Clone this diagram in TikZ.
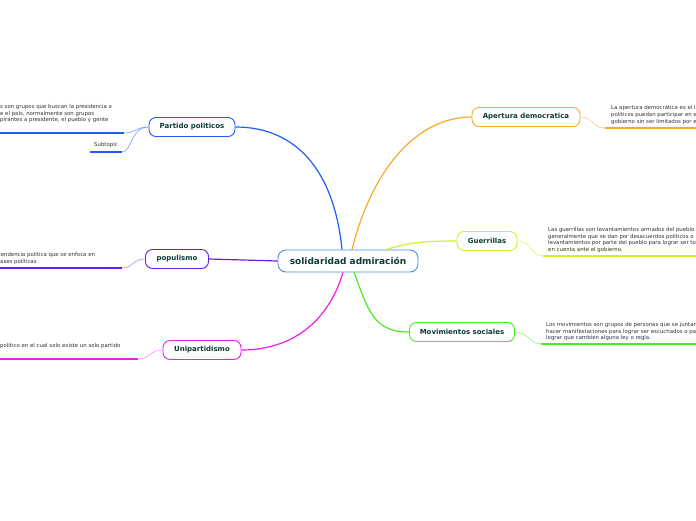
\documentclass[tikz,border=0pt]{standalone}
\usepackage{fontspec}
\setmainfont{DejaVu Sans}
\usetikzlibrary{calc}
\definecolor{Ink}{HTML}{0E3B36}
\definecolor{Hub}{HTML}{4A8FD6}
\definecolor{Royal}{HTML}{1F5BFF}
\definecolor{Amber}{HTML}{F7A928}
\definecolor{Lime}{HTML}{D2F02A}
\definecolor{Leaf}{HTML}{4CEB1F}
\definecolor{Violet}{HTML}{6B1CF0}
\definecolor{Pink}{HTML}{EE1EEE}
\definecolor{Note}{HTML}{333333}
\tikzset{
  hubnode/.style={rounded corners=8pt,draw=Hub,line width=0.9pt,fill=white,minimum width=140pt,
    minimum height=22pt,text=Ink,font=\fontsize{9}{10}\selectfont\bfseries},
  topicnode/.style={rounded corners=7pt,line width=0.9pt,fill=white,minimum height=19pt,
    text=Ink,font=\fontsize{7}{8}\selectfont\bfseries},
  branch/.style={line width=1.2pt},
  twig/.style={line width=0.6pt},
  underrule/.style={line width=1.5pt},
  notetext/.style={inner sep=0pt,anchor=north west,align=left,text=Note,
    font=\fontsize{5.4}{6.8}\selectfont},
}

\begin{document}
\begin{tikzpicture}[x=1pt,y=-1pt]
  \clip (0,0) rectangle (696,520);
  \fill[white] (0,0) rectangle (696,520);

  % main topics
  \node[hubnode] (hub) at (348,261) {solidaridad admiración};
  \node[topicnode,draw=Amber,minimum width=108pt] (apertura) at (526,117) {Apertura democratica};
  \node[topicnode,draw=Lime,minimum width=60pt] (guerrillas) at (487,241) {Guerrillas};
  \node[topicnode,draw=Leaf,minimum width=105pt] (movimientos) at (462,332) {Movimientos sociales};
  \node[topicnode,draw=Royal,minimum width=86pt] (partido) at (192,127) {Partido politicos};
  \node[topicnode,draw=Violet,minimum width=63pt] (populismo) at (177,259) {populismo};
  \node[topicnode,draw=Pink,minimum width=78pt] (unipartidismo) at (202,350) {Unipartidismo};

  % branches from the hub
  \draw[branch,Royal] ($(hub.north)+(-6,0)$) .. controls +(-8,-80) and +(60,0) .. (partido.east);
  \draw[branch,Amber] ($(hub.north)+(4,0)$) .. controls +(20,-80) and +(-55,0) .. (apertura.west);
  \draw[branch,Lime] ($(hub.north east)+(-32,0)$) .. controls +(25,-8) and +(-25,0) .. (guerrillas.west);
  \draw[branch,Leaf] ($(hub.south)+(6,0)$) .. controls +(15,40) and +(-35,0) .. (movimientos.west);
  \draw[branch,Pink] ($(hub.south)+(-5,0)$) .. controls +(-15,50) and +(50,0) .. (unipartidismo.east);
  \draw[branch,Violet] (hub.west) -- (populismo.east);

  % notes
  \coordinate (aperturaend) at (605,128);
  \coordinate (aperturaedge) at (697,128);
  \node[notetext] (aperturanote) at (611,105) {La apertura democrática es el lapso\\políticos puedan participar en el\\gobierno sin ser limitados por el};
  \draw[twig,Amber!60] (apertura.east) .. controls +(13,0) and +(-13,0) .. (aperturaend);
  \draw[underrule,Amber] (aperturaend) -- (aperturaedge);

  \coordinate (guerrillasend) at (543,256);
  \coordinate (guerrillasedge) at (697,256);
  \node[notetext] (guerrillasnote) at (548,227) {Las guerrillas son levantamientos armados del pueblo\\generalmente que se dan por desacuerdos políticos o\\levantamientos por parte del pueblo para lograr ser tomados\\en cuenta ante el gobierno.};
  \draw[twig,Lime!70] (guerrillas.east) .. controls +(14,0) and +(-12,0) .. (guerrillasend);
  \draw[underrule,Lime] (guerrillasend) -- (guerrillasedge);

  \coordinate (movimientosend) at (541,344);
  \coordinate (movimientosedge) at (697,344);
  \node[notetext] (movimientosnote) at (546,322) {Los movimientos son grupos de personas que se juntan\\hacer manifestaciones para lograr ser escuchados o para\\lograr que cambien alguna ley o regla.};
  \draw[twig,Leaf!60] (movimientos.east) .. controls +(14,0) and +(-12,0) .. (movimientosend);
  \draw[underrule,Leaf] (movimientosend) -- (movimientosedge);

  \coordinate (partidoend) at (124,133);
  \coordinate (partidoedge) at (-1,133);
  \node[notetext] (partidonote) at (0,104) {s son grupos que buscan la presidencia o\\e el país, normalmente son grupos\\pirantes a presidente, el pueblo y gente};
  \draw[twig,Royal!60] (partido.west) .. controls +(-13,0) and +(12,0) .. (partidoend);
  \draw[underrule,Royal] (partidoend) -- (partidoedge);

  \coordinate (subtopicend) at (122,152);
  \coordinate (subtopicstart) at (90,152);
  \node[inner sep=0pt,text=Note,font=\fontsize{5.4}{6}\selectfont] (subtopic) at (106,145.5) {Subtopic};
  \draw[twig,Royal!60] (partido.west) .. controls +(-18,0) and +(10,0) .. (subtopicend);
  \draw[underrule,Royal] (subtopicend) -- (subtopicstart);

  \coordinate (populismoend) at (122,268);
  \coordinate (populismoedge) at (-1,268);
  \node[notetext] (populismonote) at (-1.5,252) {tendencia política que se enfoca en\\ lases políticas};
  \draw[twig,Violet!50] (populismo.west) .. controls +(-13,0) and +(12,0) .. (populismoend);
  \draw[underrule,Violet] (populismoend) -- (populismoedge);

  \coordinate (unipartidismoend) at (138,359);
  \coordinate (unipartidismoedge) at (-1,359);
  \node[notetext] (unipartidismonote) at (0,343) {político en el cual solo existe un solo partido};
  \draw[twig,Pink!50] (unipartidismo.west) .. controls +(-13,0) and +(12,0) .. (unipartidismoend);
  \draw[underrule,Pink] (unipartidismoend) -- (unipartidismoedge);
\end{tikzpicture}
\end{document}
